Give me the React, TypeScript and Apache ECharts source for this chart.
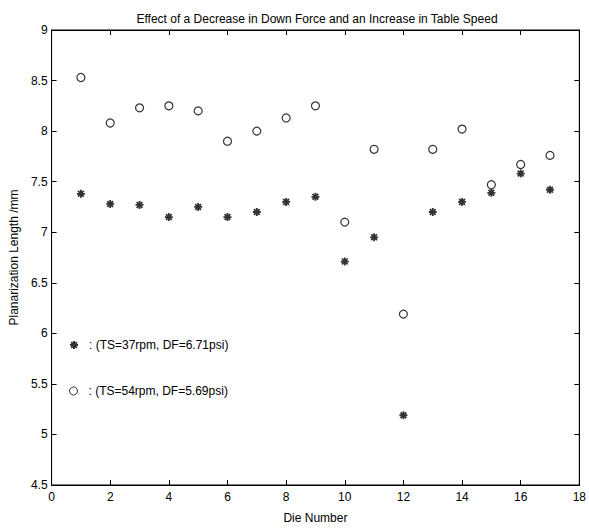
import React, { useEffect, useRef } from "react";
import * as echarts from "echarts";

const dieNumbers = [1, 2, 3, 4, 5, 6, 7, 8, 9, 10, 11, 12, 13, 14, 15, 16, 17];
const lowSpeedValues = [7.38, 7.28, 7.27, 7.15, 7.25, 7.15, 7.2, 7.3, 7.35, 6.71, 6.95, 5.19, 7.2, 7.3, 7.39, 7.58, 7.42];
const highSpeedValues = [8.53, 8.08, 8.23, 8.25, 8.2, 7.9, 8.0, 8.13, 8.25, 7.1, 7.82, 6.19, 7.82, 8.02, 7.47, 7.67, 7.76];
const seriesNames = ["(TS=37rpm, DF=6.71psi)", "(TS=54rpm, DF=5.69psi)"];
const titleText = "Effect of a Decrease in Down Force and an Increase in Table Speed";
const xAxisName = "Die Number";
const yAxisName = "Planarization Length /mm";

const FONT = "'Liberation Sans', Arial, Helvetica, sans-serif";
const STAR = "path://M0,-5L0,5M-5,0L5,0M-3.6,-3.6L3.6,3.6M-3.6,3.6L3.6,-3.6";

export default function App() {
  const ref = useRef<HTMLDivElement>(null);
  useEffect(() => {
    document.body.style.margin = "0";
    if (!ref.current) return;
    const chart = echarts.init(ref.current, undefined, { renderer: "svg" });
    const toPairs = (vals: number[]) => dieNumbers.map((d, i) => [d, vals[i]]);
    const tickStyle = { inside: true, length: 5, lineStyle: { color: "#000", width: 1 } };
    const legendText = { fontFamily: FONT, fontSize: 12, color: "#000", padding: [0, 0, 0, 6] };
    chart.setOption({
      animation: false,
      backgroundColor: "#fff",
      title: {
        text: titleText,
        left: 312,
        textAlign: "center",
        top: 8,
        textStyle: { fontFamily: FONT, fontSize: 12, fontWeight: "normal", color: "#000" },
      },
      grid: {
        left: 43,
        right: 8,
        top: 30,
        bottom: 36,
        show: true,
        borderColor: "#000",
        borderWidth: 1,
        backgroundColor: "transparent",
      },
      legend: [
        {
          data: [{ name: seriesNames[0] }],
          left: 64,
          top: 334,
          orient: "vertical",
          itemWidth: 8,
          itemHeight: 8,
          formatter: (n: string) => ": " + n,
          textStyle: legendText,
        },
        {
          data: [{ name: seriesNames[1], itemStyle: { borderWidth: 1 } }],
          left: 64,
          top: 380,
          orient: "vertical",
          itemWidth: 8,
          itemHeight: 8,
          formatter: (n: string) => ": " + n,
          textStyle: legendText,
        },
      ],
      xAxis: [
        {
          type: "value",
          min: 0,
          max: 18,
          interval: 2,
          name: xAxisName,
          nameLocation: "middle",
          nameGap: 27,
          nameTextStyle: { fontFamily: FONT, fontSize: 12, color: "#000" },
          axisLine: { show: true, onZero: false, lineStyle: { color: "#000", width: 1 } },
          axisTick: tickStyle,
          axisLabel: { fontFamily: FONT, fontSize: 12, color: "#000", margin: 6 },
          splitLine: { show: false },
        },
        {
          type: "value",
          position: "top",
          min: 0,
          max: 18,
          interval: 2,
          axisLine: { show: true, onZero: false, lineStyle: { color: "#000", width: 1 } },
          axisTick: tickStyle,
          axisLabel: { show: false },
          splitLine: { show: false },
        },
      ],
      yAxis: [
        {
          type: "value",
          min: 4.5,
          max: 9,
          interval: 0.5,
          name: yAxisName,
          nameLocation: "middle",
          nameGap: 29,
          nameRotate: 90,
          nameTextStyle: { fontFamily: FONT, fontSize: 12, color: "#000" },
          axisLine: { show: true, onZero: false, lineStyle: { color: "#000", width: 1 } },
          axisTick: tickStyle,
          axisLabel: { fontFamily: FONT, fontSize: 12, color: "#000", margin: 4 },
          splitLine: { show: false },
        },
        {
          type: "value",
          position: "right",
          min: 4.5,
          max: 9,
          interval: 0.5,
          axisLine: { show: true, onZero: false, lineStyle: { color: "#000", width: 1 } },
          axisTick: tickStyle,
          axisLabel: { show: false },
          splitLine: { show: false },
        },
      ],
      series: [
        {
          name: seriesNames[0],
          type: "scatter",
          data: toPairs(lowSpeedValues),
          symbol: STAR,
          symbolSize: 8,
          itemStyle: { color: "#000", borderColor: "#000", borderWidth: 1.8 },
        },
        {
          name: seriesNames[1],
          type: "scatter",
          data: toPairs(highSpeedValues),
          symbol: "circle",
          symbolSize: 8,
          itemStyle: { color: "#fff", borderColor: "#000", borderWidth: 1.2 },
        },
      ],
    });
    return () => chart.dispose();
  }, []);
  return <div ref={ref} style={{ width: 589, height: 529 }} />;
}
